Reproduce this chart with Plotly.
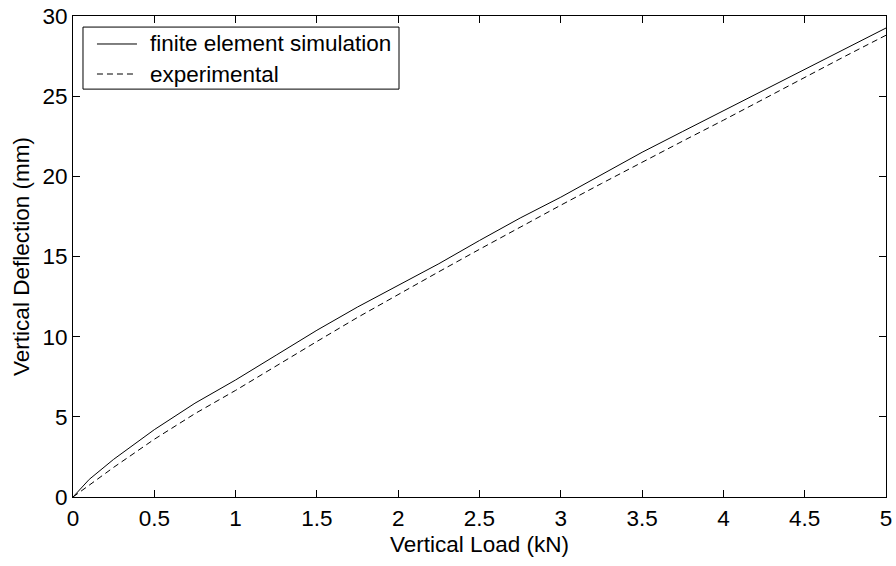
import plotly.graph_objects as go

# Data
load_kn = [0, 0.1, 0.25, 0.5, 0.75, 1.0, 1.25, 1.5, 1.75, 2.0, 2.25, 2.5, 2.75,
           3.0, 3.25, 3.5, 3.75, 4.0, 4.25, 4.5, 4.75, 5.0]
fe_deflection = [0, 1.1, 2.35, 4.2, 5.85, 7.3, 8.85, 10.4, 11.85, 13.2, 14.55, 16.0,
                 17.4, 18.7, 20.1, 21.5, 22.8, 24.1, 25.4, 26.7, 28.0, 29.25]
exp_deflection = [0, 0.75, 1.85, 3.6, 5.2, 6.65, 8.2, 9.7, 11.2, 12.65, 14.05, 15.45,
                  16.85, 18.2, 19.55, 20.9, 22.2, 23.5, 24.85, 26.15, 27.5, 28.8]

series_names = ["finite element simulation", "experimental"]
x_ticks = [0, 0.5, 1, 1.5, 2, 2.5, 3, 3.5, 4, 4.5, 5]
y_ticks = [0, 5, 10, 15, 20, 25, 30]

FONT = "Arial, Liberation Sans, sans-serif"
FS = 22.5
DASH = "6px,4px"

fig = go.Figure()
fig.add_trace(go.Scatter(x=load_kn, y=fe_deflection, mode="lines", name=series_names[0],
                         line=dict(color="black", width=1), showlegend=False))
fig.add_trace(go.Scatter(x=load_kn, y=exp_deflection, mode="lines", name=series_names[1],
                         line=dict(color="black", width=1, dash=DASH), showlegend=False))

axis_common = dict(showline=True, linecolor="black", linewidth=1, mirror="ticks",
                   ticks="inside", ticklen=7, tickcolor="black", tickwidth=1,
                   showgrid=False, zeroline=False, automargin=False,
                   ticklabeloverflow="allow",
                   tickfont=dict(family=FONT, size=FS, color="black"))

fig.update_layout(
    width=896, height=566,
    margin=dict(l=73, r=10, t=16, b=69),
    paper_bgcolor="white", plot_bgcolor="white",
    font=dict(family=FONT, size=FS, color="black"),
    xaxis=dict(range=[0, 5], tickvals=x_ticks, ticktext=[str(v) for v in x_ticks],
               ticklabelstandoff=1,
               title=dict(text="Vertical Load (kN)", standoff=6,
                          font=dict(family=FONT, size=FS, color="black")),
               **axis_common),
    yaxis=dict(range=[0, 30], tickvals=y_ticks,
               title=dict(text="Vertical Deflection (mm)", standoff=6,
                          font=dict(family=FONT, size=FS, color="black")),
               **axis_common),
    showlegend=False,
)

# Legend box drawn in paper coordinates (mimics the MATLAB legend)
fig.add_shape(type="rect", xref="paper", yref="paper", x0=0.0123, x1=0.401, y0=0.848, y1=0.977,
              line=dict(color="black", width=1), fillcolor="white", layer="above")
legend_rows = [0.9418, 0.8794]
legend_dash = ["solid", DASH]
for name, yr, dsh in zip(series_names, legend_rows, legend_dash):
    fig.add_shape(type="line", xref="paper", yref="paper", x0=0.0295, x1=0.0787, y0=yr, y1=yr,
                  line=dict(color="black", width=1, dash=dsh), layer="above")
    fig.add_annotation(xref="paper", yref="paper", x=0.0923, y=yr, text=name, showarrow=False,
                       xanchor="left", yanchor="middle",
                       font=dict(family=FONT, size=FS, color="black"))

# Remove the default page margin so the 896x566 figure fills the window exactly
fig.write_html("out.html", config={"displayModeBar": False}, post_script=(
    "document.body.style.margin='0';"
    "document.body.style.overflow='hidden';"
    "document.documentElement.style.overflow='hidden';"))
